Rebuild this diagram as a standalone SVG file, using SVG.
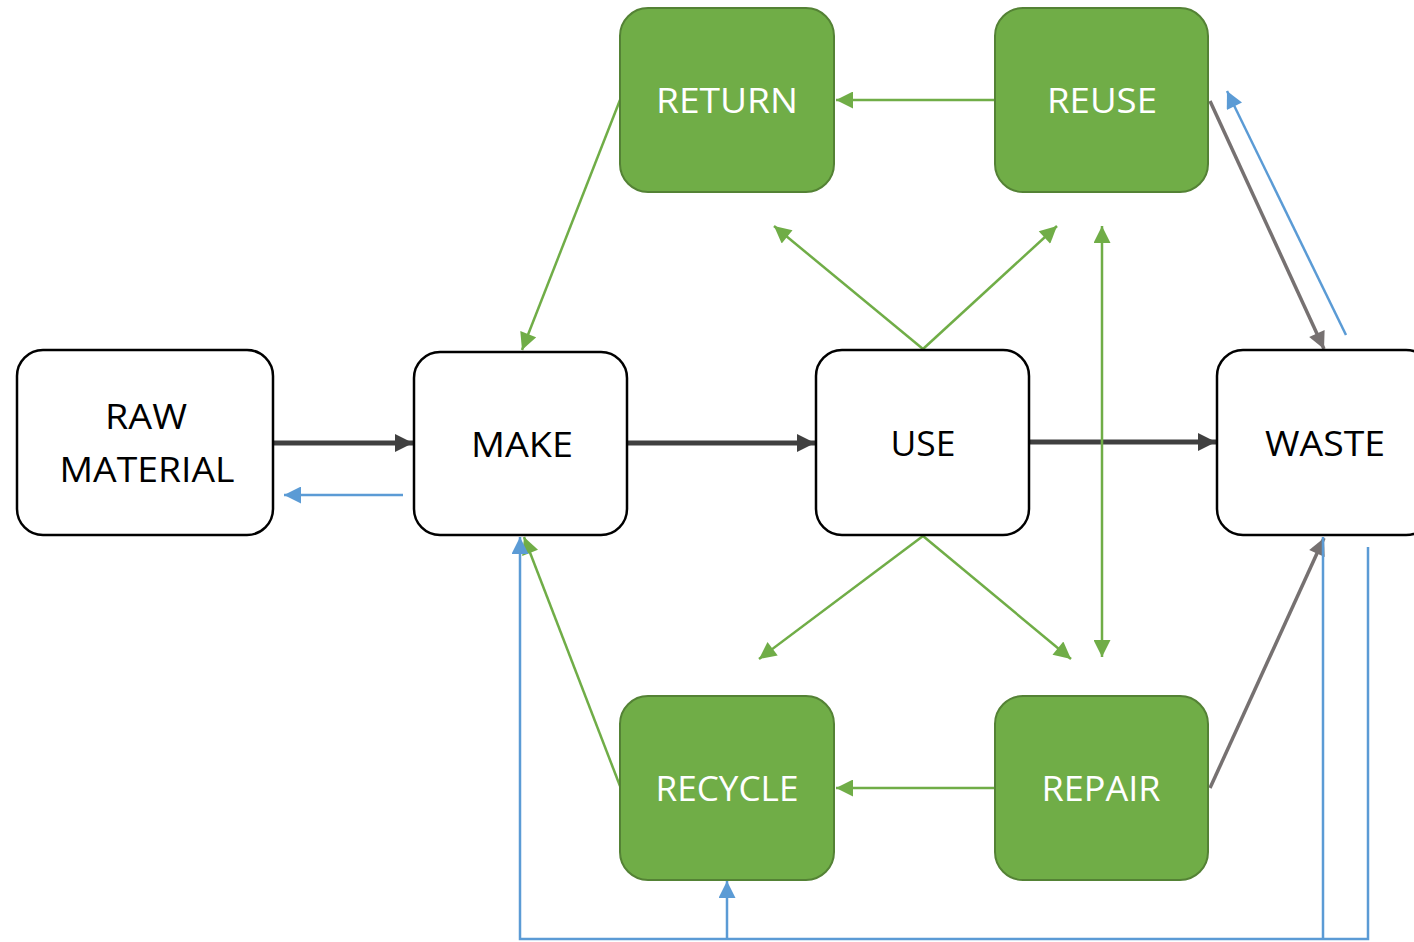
<svg xmlns="http://www.w3.org/2000/svg" width="1414" height="942" viewBox="0 0 1414 942">
<style>
.w{fill:#fff;stroke:#000;stroke-width:2.5}
.g{fill:#70AD47;stroke:#548235;stroke-width:2}
.t{font-family:"Open Sans","Liberation Sans",Arial,sans-serif;font-size:35px;text-anchor:middle}
.tw{fill:#fff}
.tb{fill:#000}
.lg{stroke:#70AD47;stroke-width:2.5;fill:none;marker-end:url(#ag)}
.lb{stroke:#5B9BD5;stroke-width:2.5;fill:none}
.ld{stroke:#404040;stroke-width:5;fill:none;marker-end:url(#ad)}
.lr{stroke:#767171;stroke-width:3.5;fill:none;marker-end:url(#ar)}
</style>
<defs>
<marker id="ag" viewBox="0 0 10 10" refX="10" refY="5" markerUnits="userSpaceOnUse" markerWidth="19" markerHeight="17" orient="auto-start-reverse"><path d="M0,0L10,5L0,10z" fill="#70AD47"/></marker>
<marker id="ab" viewBox="0 0 10 10" refX="10" refY="5" markerUnits="userSpaceOnUse" markerWidth="19" markerHeight="17" orient="auto"><path d="M0,0L10,5L0,10z" fill="#5B9BD5"/></marker>
<marker id="ad" viewBox="0 0 10 10" refX="10" refY="5" markerUnits="userSpaceOnUse" markerWidth="18" markerHeight="18" orient="auto"><path d="M0,0L10,5L0,10z" fill="#404040"/></marker>
<marker id="ar" viewBox="0 0 10 10" refX="10" refY="5" markerUnits="userSpaceOnUse" markerWidth="18" markerHeight="17" orient="auto"><path d="M0,0L10,5L0,10z" fill="#767171"/></marker>
</defs>
<g id="connectors">
<line class="ld" x1="274" y1="443" x2="413" y2="443"/>
<line class="ld" x1="628" y1="443" x2="815" y2="443"/>
<line class="ld" x1="1030" y1="442" x2="1216" y2="442"/>
<line class="lb" x1="403" y1="495" x2="284" y2="495" marker-end="url(#ab)"/>
<line class="lg" x1="620" y1="100" x2="522" y2="350"/>
<line class="lg" x1="995" y1="100" x2="836" y2="100"/>
<line class="lg" x1="923" y1="349" x2="774" y2="226"/>
<line class="lg" x1="923" y1="349" x2="1057" y2="226"/>
<line class="lg" x1="1102" y1="226" x2="1102" y2="657" marker-start="url(#ag)"/>
<line class="lg" x1="923" y1="536" x2="759" y2="659"/>
<line class="lg" x1="923" y1="536" x2="1071" y2="659"/>
<line class="lg" x1="620" y1="786" x2="524" y2="537"/>
<line class="lg" x1="995" y1="788" x2="836" y2="788"/>
<line class="lr" x1="1210" y1="101" x2="1324" y2="349"/>
<line class="lr" x1="1210" y1="788" x2="1324" y2="538"/>
<line class="lb" x1="1346" y1="335" x2="1227" y2="91" marker-end="url(#ab)"/>
<polyline class="lb" points="1323,537 1323,939"/>
<polyline class="lb" points="1368,547 1368,939 520,939 520,537" marker-end="url(#ab)"/>
<line class="lb" x1="727" y1="939" x2="727" y2="881" marker-end="url(#ab)"/>
</g>
<g id="raw"><rect class="w" x="17" y="350" width="256" height="185" rx="26"/><text class="t tb" x="146" y="429" textLength="82" lengthAdjust="spacingAndGlyphs">RAW</text><text class="t tb" x="147" y="482" textLength="175" lengthAdjust="spacingAndGlyphs">MATERIAL</text></g>
<g id="make"><rect class="w" x="414" y="352" width="213" height="183" rx="26"/><text class="t tb" x="522" y="457" textLength="102" lengthAdjust="spacingAndGlyphs">MAKE</text></g>
<g id="use"><rect class="w" x="816" y="350" width="213" height="185" rx="26"/><text class="t tb" x="923" y="456" textLength="65" lengthAdjust="spacingAndGlyphs">USE</text></g>
<g id="waste"><rect class="w" x="1217" y="350" width="215" height="185" rx="26"/><text class="t tb" x="1325" y="456" textLength="120" lengthAdjust="spacingAndGlyphs">WASTE</text></g>
<g id="return"><rect class="g" x="620" y="8" width="214" height="184" rx="28"/><text class="t tw" x="727" y="113" textLength="142" lengthAdjust="spacingAndGlyphs">RETURN</text></g>
<g id="reuse"><rect class="g" x="995" y="8" width="213" height="184" rx="28"/><text class="t tw" x="1102" y="113" textLength="110" lengthAdjust="spacingAndGlyphs">REUSE</text></g>
<g id="recycle"><rect class="g" x="620" y="696" width="214" height="184" rx="28"/><text class="t tw" x="727" y="801" textLength="143" lengthAdjust="spacingAndGlyphs">RECYCLE</text></g>
<g id="repair"><rect class="g" x="995" y="696" width="213" height="184" rx="28"/><text class="t tw" x="1101" y="801" textLength="119" lengthAdjust="spacingAndGlyphs">REPAIR</text></g>
</svg>
